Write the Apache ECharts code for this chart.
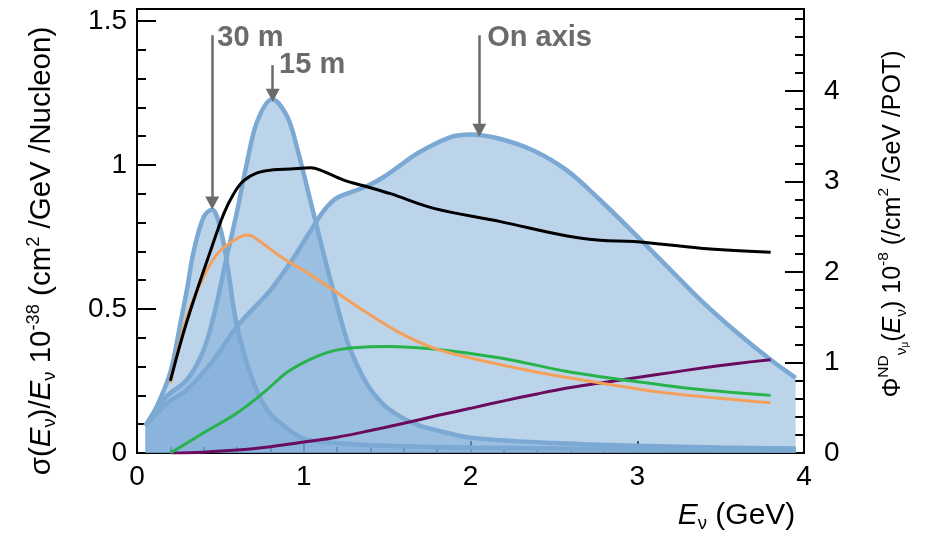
<!DOCTYPE html>
<html>
<head>
<meta charset="utf-8">
<script src="https://cdn.jsdelivr.net/npm/echarts@6/dist/echarts.min.js"></script>
<style>
  html, body { margin: 0; padding: 0; background: #fff; }
  #chart { width: 933px; height: 538px; }
</style>
</head>
<body>
<div id="chart"></div>
<script>
(function () {
    'use strict';

    // neutrino energy (GeV) and flux (right axis, 10^-8 /cm2/GeV/POT)
    var fluxOnAxis = [
        [0.05, 0.30], [0.18, 0.55], [0.30, 0.70], [0.46, 1.03], [0.60, 1.40],
        [0.80, 1.80], [0.94, 2.16], [1.08, 2.57], [1.14, 2.72], [1.20, 2.82],
        [1.28, 2.88], [1.38, 2.95], [1.48, 3.05], [1.58, 3.18], [1.68, 3.31],
        [1.88, 3.49], [2.00, 3.52], [2.18, 3.47], [2.38, 3.34], [2.58, 3.12],
        [2.78, 2.79], [2.98, 2.43], [3.18, 2.06], [3.38, 1.69], [3.58, 1.36],
        [3.80, 1.03], [3.95, 0.83]
    ];
    var flux15m = [
        [0.05, 0.30], [0.18, 0.63], [0.30, 0.81], [0.40, 1.14], [0.47, 1.59],
        [0.53, 2.10], [0.60, 2.67], [0.66, 3.21], [0.72, 3.66], [0.81, 3.91],
        [0.90, 3.72], [0.96, 3.37], [1.06, 2.64], [1.16, 1.91], [1.26, 1.24],
        [1.32, 0.97], [1.38, 0.76], [1.44, 0.61], [1.50, 0.50], [1.60, 0.38],
        [1.70, 0.30], [1.80, 0.25], [2.00, 0.17], [2.50, 0.11], [3.00, 0.08],
        [3.50, 0.06], [3.95, 0.05]
    ];
    var flux30m = [
        [0.05, 0.30], [0.12, 0.52], [0.20, 0.89], [0.26, 1.43], [0.30, 1.81],
        [0.34, 2.23], [0.40, 2.61], [0.45, 2.69], [0.50, 2.48], [0.54, 2.10],
        [0.60, 1.40], [0.70, 0.77], [0.78, 0.48], [0.86, 0.33], [1.00, 0.16],
        [1.20, 0.11], [1.50, 0.08], [2.00, 0.06], [3.00, 0.04], [3.95, 0.03]
    ];

    // cross sections (left axis, 10^-38 cm2/GeV/Nucleon)
    var xsecTotal = [
        [0.20, 0.25], [0.27, 0.40], [0.34, 0.53], [0.44, 0.70], [0.52, 0.83],
        [0.58, 0.90], [0.64, 0.945], [0.72, 0.972], [0.82, 0.983], [0.92, 0.986],
        [1.04, 0.99], [1.10, 0.982], [1.24, 0.947], [1.38, 0.924], [1.52, 0.90],
        [1.78, 0.849], [2.18, 0.803], [2.58, 0.753], [2.78, 0.738], [2.98, 0.734],
        [3.38, 0.711], [3.80, 0.697]
    ];
    var xsecOrange = [
        [0.20, 0.243], [0.30, 0.474], [0.40, 0.612], [0.48, 0.69], [0.56, 0.73],
        [0.66, 0.757], [0.70, 0.75], [0.86, 0.682], [1.06, 0.612], [1.26, 0.532],
        [1.38, 0.486], [1.58, 0.416], [1.78, 0.364], [2.00, 0.330], [2.38, 0.283],
        [2.78, 0.243], [3.18, 0.208], [3.80, 0.174]
    ];
    var xsecGreen = [
        [0.20, 0.0], [0.40, 0.07], [0.60, 0.139], [0.76, 0.21], [0.90, 0.28],
        [1.02, 0.32], [1.16, 0.352], [1.30, 0.365], [1.50, 0.37], [1.78, 0.361],
        [2.18, 0.330], [2.58, 0.283], [2.98, 0.249], [3.38, 0.22], [3.80, 0.20]
    ];
    var xsecPurple = [
        [0.20, 0.0], [0.40, 0.003], [0.60, 0.010], [0.80, 0.022], [1.00, 0.038],
        [1.20, 0.055], [1.40, 0.078], [1.60, 0.103], [1.80, 0.130], [2.00, 0.155],
        [2.20, 0.181], [2.40, 0.205], [2.60, 0.227], [2.80, 0.245], [3.00, 0.262],
        [3.20, 0.279], [3.40, 0.296], [3.60, 0.311], [3.80, 0.324]
    ];

    // annotation arrows: label, x, arrow top, arrow tip (left axis units)
    var arrowLabels = ['30 m', '15 m', 'On axis'];
    var arrowX = [0.451, 0.814, 2.053];
    var arrowTop = [1.45, 1.346, 1.45];
    var arrowTip = [0.868, 1.242, 1.12];
    var labelX = [0.482, 0.852, 2.10];
    var labelY = [1.44, 1.346, 1.44];

    var font = 'Liberation Sans, Arial, sans-serif';
    var fluxLine = '#7ba9d4';
    var fluxFill = 'rgba(122,170,214,0.5)';
    var grey = '#6b6b6b';

    var chart = echarts.init(document.getElementById('chart'));

    function fluxSeries(name, data) {
        return {
            name: name,
            type: 'line',
            yAxisIndex: 1,
            data: data,
            smooth: 0.35,
            showSymbol: false,
            lineStyle: {color: fluxLine, width: 4.5},
            areaStyle: {color: fluxFill, opacity: 1},
            z: 2
        };
    }

    function xsecSeries(name, data, color) {
        return {
            name: name,
            type: 'line',
            yAxisIndex: 0,
            data: data,
            smooth: 0.35,
            showSymbol: false,
            lineStyle: {color: color, width: 3},
            z: 3
        };
    }

    var markLines = [];
    var markPoints = [];
    for (var i = 0; i < arrowLabels.length; i++) {
        markLines.push([
            {coord: [arrowX[i], arrowTop[i]]},
            {coord: [arrowX[i], arrowTip[i]]}
        ]);
        markPoints.push({
            coord: [labelX[i], labelY[i]],
            value: arrowLabels[i]
        });
    }

    var tickStyle = {color: '#000', width: 2};

    function richText(size) {
        return {
            s: {fontSize: size, fontFamily: font, color: '#000', lineHeight: 34},
            i: {fontSize: size, fontFamily: font, fontStyle: 'italic', color: '#000', lineHeight: 34},
            sub: {fontSize: size * 0.62, fontFamily: font, color: '#000', verticalAlign: 'bottom', lineHeight: 34},
            subsub: {fontSize: size * 0.4, fontFamily: font, color: '#000', verticalAlign: 'bottom', lineHeight: 34},
            sup: {fontSize: size * 0.62, fontFamily: font, color: '#000', verticalAlign: 'top', lineHeight: 34}
        };
    }

    var option = {
        animation: false,
        backgroundColor: '#fff',
        grid: {
            left: 137,
            right: 129,
            top: 9,
            bottom: 85,
            show: true,
            borderColor: '#000',
            borderWidth: 2,
            outerBoundsMode: 'none'
        },
        xAxis: [{
            type: 'value',
            min: 0,
            max: 4,
            interval: 1,
            position: 'bottom',
            name: '{i|E}{sub|ν}{s| (GeV)}',
            nameLocation: 'middle',
            nameGap: 46,
            nameMoveOverlap: false,
            nameTextStyle: {
                padding: [0, 0, 0, 532],
                rich: richText(30)
            },
            axisLine: {show: true, lineStyle: {color: '#000', width: 2}},
            axisTick: {inside: true, length: 12, lineStyle: tickStyle},
            minorTick: {show: true, splitNumber: 5, length: 6, lineStyle: tickStyle},
            axisLabel: {fontSize: 28, fontFamily: font, color: '#000', margin: 10},
            splitLine: {show: false}
        }],
        yAxis: [{
            type: 'value',
            position: 'left',
            min: 0,
            max: 1.541,
            interval: 0.5,
            name: '{s|σ(}{i|E}{sub|ν}{s|)/}{i|E}{sub|ν}{s| 10}{sup|-38}{s| (cm}{sup|2}{s| /GeV /Nucleon)}',
            nameLocation: 'middle',
            nameRotate: 90,
            nameGap: 78,
            nameMoveOverlap: false,
            nameTextStyle: {
                padding: [0, 40, 0, 0],
                rich: richText(29.5)
            },
            axisLine: {show: true, lineStyle: {color: '#000', width: 2}},
            axisTick: {inside: true, length: 19, lineStyle: tickStyle},
            axisLabel: {fontSize: 28, fontFamily: font, color: '#000', margin: 10, showMaxLabel: false},
            splitLine: {show: false}
        }, {
            type: 'value',
            position: 'right',
            min: 0,
            max: 4.906,
            interval: 1,
            name: '{s|Φ}{sup|ND}{sub|ν}{subsub|μ}{s|(}{i|E}{sub|ν}{s|) 10}{sup|-8}{s| (/cm}{sup|2}{s| /GeV /POT)}',
            nameLocation: 'middle',
            nameRotate: 90,
            nameGap: 72,
            nameMoveOverlap: false,
            nameTextStyle: {
                padding: [0, 0, 0, 14],
                rich: richText(25)
            },
            axisLine: {show: true, lineStyle: {color: '#000', width: 2}},
            axisTick: {inside: true, length: 19, lineStyle: tickStyle},
            axisLabel: {fontSize: 28, fontFamily: font, color: '#000', margin: 20, showMaxLabel: false},
            splitLine: {show: false}
        }, {
            // minor ticks of the left axis
            type: 'value',
            position: 'left',
            min: 0,
            max: 1.541,
            interval: 0.1,
            axisLine: {show: false},
            axisTick: {inside: true, length: 9, lineStyle: tickStyle},
            axisLabel: {show: false},
            splitLine: {show: false}
        }, {
            // minor ticks of the right axis
            type: 'value',
            position: 'right',
            min: 0,
            max: 4.906,
            interval: 0.2,
            axisLine: {show: false},
            axisTick: {inside: true, length: 9, lineStyle: tickStyle},
            axisLabel: {show: false},
            splitLine: {show: false}
        }],
        series: [
            fluxSeries('On axis', fluxOnAxis),
            fluxSeries('15 m', flux15m),
            fluxSeries('30 m', flux30m),
            xsecSeries('purple', xsecPurple, '#6b0b5e'),
            xsecSeries('green', xsecGreen, '#27b34b'),
            xsecSeries('orange', xsecOrange, '#f5a05a'),
            {
                name: 'total',
                type: 'line',
                yAxisIndex: 0,
                data: xsecTotal,
                smooth: 0.35,
                showSymbol: false,
                lineStyle: {color: '#000', width: 3},
                z: 4,
                markLine: {
                    silent: true,
                    symbol: ['none', 'triangle'],
                    symbolSize: [14, 13],
                    symbolRotate: 180,
                    lineStyle: {color: grey, width: 2.5, type: 'solid'},
                    label: {show: false},
                    data: markLines
                },
                markPoint: {
                    silent: true,
                    symbol: 'circle',
                    symbolSize: 0,
                    label: {
                        show: true,
                        position: 'right',
                        distance: 0,
                        formatter: '{c}',
                        fontSize: 29,
                        fontWeight: 'bold',
                        fontFamily: font,
                        color: grey
                    },
                    data: markPoints
                }
            }
        ]
    };

    chart.setOption(option);
})();
</script>
</body>
</html>
